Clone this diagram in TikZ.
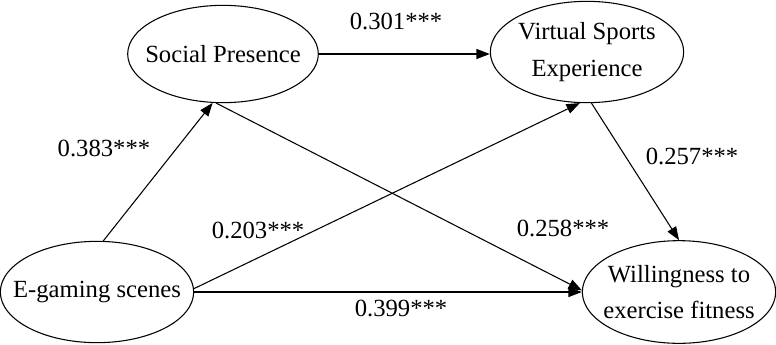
\documentclass[tikz,border=0pt]{standalone}
\usepackage{fontspec}
\setmainfont{Liberation Serif}
\usetikzlibrary{shapes.geometric,arrows.meta}
\begin{document}
\begin{tikzpicture}[x=0.75pt, y=-0.75pt, >={Triangle[length=10pt,width=7.5pt]}, line width=0.8pt,
	font=\fontsize{18.5}{27.5}\selectfont,
	var/.style={draw, ellipse, inner sep=0pt, minimum width=145pt, minimum height=76pt},
	coef/.style={inner sep=0pt}]
	\useasboundingbox (0,0) rectangle (776,344);
	\node[var, minimum width=143pt, minimum height=73pt, label={center:Social Presence}] (sp) at (223,54) {};
	\node[var, label={[align=center]center:Virtual Sports\\Experience}] (vse) at (587,52) {};
	\node[var, minimum height=77pt, label={[align=center]center:Willingness to\\exercise fitness}] (wef) at (679,292) {};
	\node[var, label={center:E-gaming scenes}] (egs) at (97,292) {};
	\draw[->] (egs.83) -- (sp.258);
	\draw[->] (sp.east) -- (sp.east -| vse.west);
	\draw[->] (egs.2) -- (vse.262);
	\draw[->] (sp.262) -- (wef.179);
	\draw[->] (egs.east) -- (wef.west);
	\draw[->] (vse.275) -- (wef.north);
	\node[coef] (c383) at (104,148) {0.383***};
	\node[coef] (c301) at (396,21) {0.301***};
	\node[coef] (c203) at (258,230) {0.203***};
	\node[coef] (c399) at (401,308) {0.399***};
	\node[coef] (c258) at (563,228) {0.258***};
	\node[coef] (c257) at (692,156) {0.257***};
\end{tikzpicture}
\end{document}
